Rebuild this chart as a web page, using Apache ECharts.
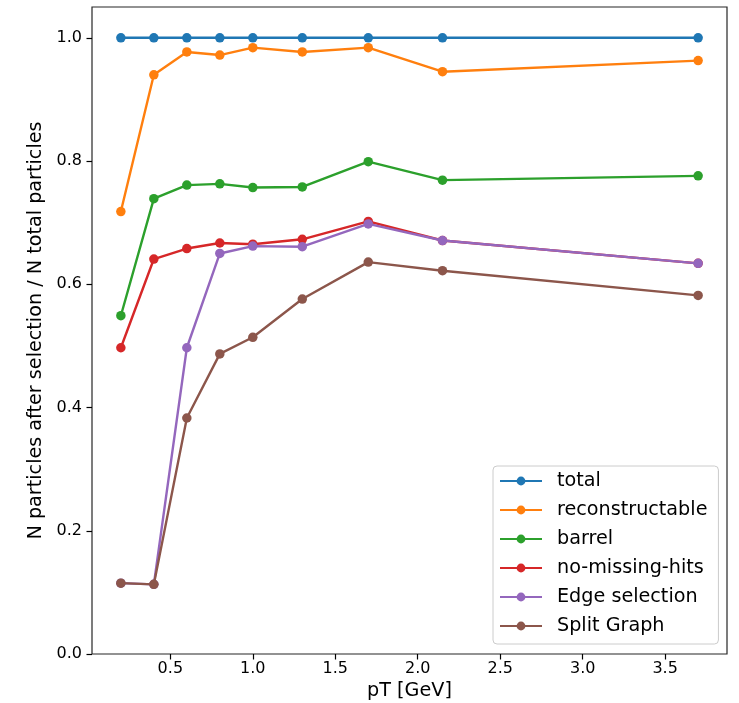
<!DOCTYPE html>
<html>
<head>
<meta charset="utf-8">
<script src="https://cdn.jsdelivr.net/npm/echarts@6/dist/echarts.min.js"></script>
<style>
  html, body { margin: 0; padding: 0; background: #fff; }
  #chart { width: 739px; height: 703px; }
</style>
</head>
<body>
<div id="chart"></div>
<script>
// pT bin centres [GeV]
const pT = [0.2, 0.4, 0.6, 0.8, 1.0, 1.3, 1.7, 2.15, 3.7];

// fraction of particles surviving each selection step
const total            = [1.0, 1.0, 1.0, 1.0, 1.0, 1.0, 1.0, 1.0, 1.0];
const reconstructable  = [0.718, 0.940, 0.977, 0.972, 0.984, 0.977, 0.984, 0.945, 0.963];
const barrel           = [0.549, 0.739, 0.761, 0.763, 0.757, 0.758, 0.799, 0.769, 0.776];
const noMissingHits    = [0.497, 0.641, 0.658, 0.667, 0.665, 0.673, 0.702, 0.671, 0.634];
const edgeSelection    = [0.115, 0.113, 0.497, 0.650, 0.662, 0.661, 0.698, 0.671, 0.634];
const splitGraph       = [0.115, 0.113, 0.383, 0.487, 0.514, 0.576, 0.636, 0.622, 0.582];

const seriesNames = ['total', 'reconstructable', 'barrel', 'no-missing-hits', 'Edge selection', 'Split Graph'];
const seriesValues = [total, reconstructable, barrel, noMissingHits, edgeSelection, splitGraph];
const colors = ['#1f77b4', '#ff7f0e', '#2ca02c', '#d62728', '#9467bd', '#8c564b'];

const xTicks = [0.5, 1.0, 1.5, 2.0, 2.5, 3.0, 3.5];
const yTicks = [0.0, 0.2, 0.4, 0.6, 0.8, 1.0];

const FONT = 'DejaVu Sans';

const chart = echarts.init(document.getElementById('chart'), null, { renderer: 'canvas' });

chart.setOption({
  animation: false,
  backgroundColor: '#ffffff',
  color: colors,
  textStyle: { fontFamily: FONT },
  grid: {
    left: 92, top: 7, right: 12, bottom: 49,
    outerBoundsMode: 'none',
    containLabel: false,
    show: true, borderColor: '#262626', borderWidth: 1.2, backgroundColor: 'transparent'
  },
  xAxis: {
    type: 'value',
    min: 0.025, max: 3.875,
    name: 'pT [GeV]',
    nameLocation: 'middle',
    nameGap: 18,
    nameTextStyle: { fontFamily: FONT, fontSize: 19.2, color: '#000' },
    axisLine: { show: false },
    splitLine: { show: false },
    axisTick: { show: true, inside: false, length: 5.5, customValues: xTicks, lineStyle: { color: '#000', width: 1.2 } },
    axisLabel: { customValues: xTicks, margin: 7, fontFamily: FONT, fontSize: 16, color: '#000',
      formatter: v => v.toFixed(1) }
  },
  yAxis: {
    type: 'value',
    min: 0, max: 1.05,
    name: 'N particles after selection / N total particles',
    nameLocation: 'middle',
    nameRotate: 90,
    nameGap: 38,
    nameTextStyle: { fontFamily: FONT, fontSize: 19.2, color: '#000' },
    axisLine: { show: false },
    splitLine: { show: false },
    axisTick: { show: true, inside: false, length: 5.5, customValues: yTicks, lineStyle: { color: '#000', width: 1.2 } },
    axisLabel: { customValues: yTicks, margin: 10, fontFamily: FONT, fontSize: 16, color: '#000',
      formatter: v => v.toFixed(1) }
  },
  legend: {
    orient: 'vertical',
    left: 493, top: 466,
    padding: [5, 11, 8, 6],
    itemWidth: 42, itemHeight: 11,
    itemGap: 9,
    backgroundColor: 'rgba(255,255,255,0.85)',
    borderColor: '#cccccc', borderWidth: 1, borderRadius: 4,
    textStyle: { fontFamily: FONT, fontSize: 19.2, color: '#000', lineHeight: 20, padding: [0, 0, 0, 10] },
    data: seriesNames
  },
  series: seriesNames.map((name, i) => ({
    name: name,
    type: 'line',
    data: pT.map((x, j) => [x, seriesValues[i][j]]),
    symbol: 'circle',
    symbolSize: 9.5,
    showSymbol: true,
    lineStyle: { width: 2.4, color: colors[i] },
    itemStyle: { color: colors[i] },
    z: 2 + i
  }))
});
</script>
</body>
</html>
